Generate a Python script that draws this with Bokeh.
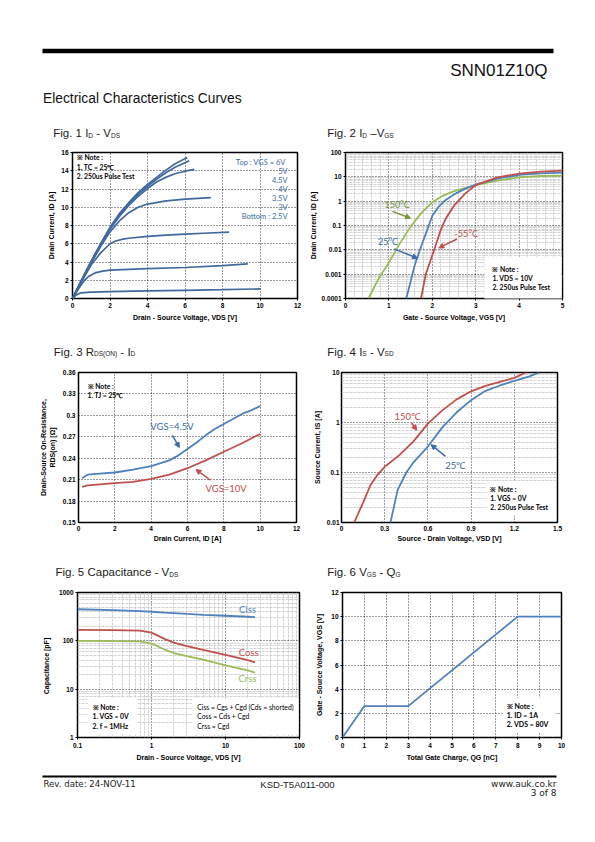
from bokeh.plotting import figure
from bokeh.layouts import column, row
from bokeh.models import Range1d, FixedTicker, CustomJSTickFormatter, Label, Arrow, NormalHead
from bokeh.core.properties import value
from bokeh.embed import file_html
from bokeh.resources import INLINE

# ---------------- DATA ----------------
# Fig 1: ID - VDS, one curve per VGS
fig1_vgs_labels = ["6V", "5V", "4.5V", "4V", "3.5V", "3V", "2.5V"]
fig1_vds_6v = [0, 0.5, 1, 1.5, 2, 2.5, 3, 3.5, 4, 4.5, 5, 5.5, 6.12]
fig1_id_6v = [0, 2.1, 4.1, 6.0, 7.8, 9.3, 10.5, 11.6, 12.5, 13.3, 14.1, 14.8, 15.45]
fig1_vds_5v = [0, 0.5, 1, 1.5, 2, 2.5, 3, 3.5, 4, 4.5, 5, 5.5, 6.23]
fig1_id_5v = [0, 2.1, 4.1, 5.95, 7.7, 9.2, 10.4, 11.4, 12.3, 13.1, 13.8, 14.4, 15.1]
fig1_vds_45v = [0, 0.5, 1, 1.5, 2, 2.5, 3, 3.5, 4, 4.5, 5, 5.5, 6, 6.5]
fig1_id_45v = [0, 2.0, 4.0, 5.85, 7.6, 9.0, 10.2, 11.2, 12.05, 12.8, 13.3, 13.7, 13.95, 14.15]
fig1_vds_4v = [0, 0.5, 1, 1.5, 2, 2.5, 3, 3.5, 4, 5, 6, 7.38]
fig1_id_4v = [0, 2.0, 3.9, 5.7, 7.3, 8.5, 9.4, 10.0, 10.35, 10.7, 10.9, 11.05]
fig1_vds_35v = [0, 0.5, 1, 1.5, 2, 2.3, 2.7, 3, 4, 5, 6, 7, 8.35]
fig1_id_35v = [0, 1.9, 3.7, 5.0, 6.0, 6.3, 6.5, 6.6, 6.8, 6.95, 7.05, 7.15, 7.28]
fig1_vds_3v = [0, 0.3, 0.6, 0.85, 1.2, 1.6, 2, 3, 4, 6, 8, 9.35]
fig1_id_3v = [0, 1.0, 1.9, 2.4, 2.8, 3.0, 3.1, 3.2, 3.27, 3.4, 3.6, 3.8]
fig1_vds_25v = [0, 0.2, 0.45, 1, 2, 4, 6, 8, 10.05]
fig1_id_25v = [0, 0.4, 0.62, 0.7, 0.75, 0.83, 0.9, 0.97, 1.05]
fig1_x_ticks = [0, 2, 4, 6, 8, 10, 12]
fig1_y_ticks = [0, 2, 4, 6, 8, 10, 12, 14, 16]

# Fig 2: ID - VGS (log)
fig2_vgs_150 = [0.53, 0.75, 1.0, 1.25, 1.5, 1.75, 2.0, 2.25, 2.5, 3.0, 3.5, 4.0, 4.5, 5.0]
fig2_id_150 = [0.0001, 0.0006, 0.003, 0.018, 0.09, 0.33, 0.9, 1.7, 2.6, 4.6, 7.0, 9.5, 10.8, 11.3]
fig2_vgs_25 = [1.4, 1.5, 1.6, 1.75, 1.9, 2.0, 2.15, 2.3, 2.5, 2.75, 3.0, 3.5, 4.0, 4.5, 5.0]
fig2_id_25 = [0.0001, 0.0005, 0.0025, 0.015, 0.08, 0.25, 0.6, 1.1, 1.9, 3.2, 4.8, 8.5, 12.0, 14.0, 15.0]
fig2_vgs_m55 = [1.74, 1.85, 2.0, 2.1, 2.2, 2.3, 2.5, 2.75, 3.0, 3.5, 4.0, 4.5, 5.0]
fig2_id_m55 = [0.0001, 0.001, 0.006, 0.02, 0.07, 0.18, 0.65, 2.0, 4.6, 9.5, 13.5, 16.5, 18.0]
fig2_x_ticks = [0, 1, 2, 3, 4, 5]
fig2_y_ticks = [0.0001, 0.001, 0.01, 0.1, 1, 10, 100]

# Fig 3: RDS(on) - ID
fig3_id_45v = [0.2, 0.5, 1, 2, 3, 4, 5, 5.5, 6, 6.5, 7, 7.5, 8, 8.5, 9, 9.5, 10]
fig3_r_45v = [0.212, 0.217, 0.218, 0.22, 0.224, 0.229, 0.237, 0.244, 0.253, 0.262, 0.272, 0.281, 0.288, 0.295, 0.302, 0.307, 0.313]
fig3_id_10v = [0.2, 0.5, 1, 2, 3, 4, 5, 6, 7, 8, 9, 10]
fig3_r_10v = [0.2, 0.202, 0.203, 0.205, 0.207, 0.211, 0.217, 0.226, 0.237, 0.249, 0.261, 0.274]
fig3_x_ticks = [0, 2, 4, 6, 8, 10, 12]
fig3_y_ticks = [0.15, 0.18, 0.21, 0.24, 0.27, 0.3, 0.33, 0.36]

# Fig 4: IS - VSD (log)
fig4_vsd_150 = [0.088, 0.15, 0.2, 0.25, 0.3, 0.4, 0.5, 0.6, 0.7, 0.8, 0.9, 1.0, 1.1, 1.2, 1.28]
fig4_is_150 = [0.01, 0.025, 0.055, 0.09, 0.13, 0.22, 0.42, 0.95, 1.75, 2.9, 4.2, 5.4, 6.5, 7.8, 10.0]
fig4_vsd_25 = [0.34, 0.39, 0.45, 0.5, 0.6, 0.7, 0.8, 0.9, 1.0, 1.1, 1.2, 1.3, 1.375]
fig4_is_25 = [0.01, 0.045, 0.1, 0.16, 0.33, 0.8, 1.6, 2.8, 4.3, 5.5, 6.8, 8.3, 10.0]
fig4_x_ticks = [0, 0.3, 0.6, 0.9, 1.2, 1.5]
fig4_y_ticks = [0.01, 0.1, 1, 10]

# Fig 5: Capacitance - VDS (log-log)
fig5_vds = [0.1, 0.3, 0.7, 1, 1.5, 2, 3, 5, 10, 20, 25]
fig5_ciss = [450, 430, 410, 400, 385, 375, 360, 345, 330, 315, 310]
fig5_coss = [168, 167, 163, 148, 110, 92, 78, 65, 51, 40, 36]
fig5_crss = [100, 99, 97, 88, 66, 56, 48, 41, 31, 24.5, 22]
fig5_x_ticks = [0.1, 1, 10, 100]
fig5_y_ticks = [1, 10, 100, 1000]

# Fig 6: VGS - QG
fig6_qg = [0, 1, 3, 8, 10]
fig6_vgs = [0, 2.6, 2.6, 10, 10]
fig6_x_ticks = [0, 1, 2, 3, 4, 5, 6, 7, 8, 9, 10]
fig6_y_ticks = [0, 2, 4, 6, 8, 10, 12]

# ---------------- STYLE ----------------
FONT = "Liberation Sans"
NFONT = "Lato"
BLUE1 = "#41699D"
BLUE = "#4F81BD"
RED = "#C0504D"
GREEN = "#9BBB59"
GREEN_T = "#77933C"
BLUE_T = "#3B6AA8"

ARIAL = {"F": 611, "i": 222, "g": 556, ".": 278, " ": 278, "I": 278, "D": 722, "S": 667, "-": 333,
         "V": 667, "R": 722, "(": 333, ")": 333, "O": 778, "N": 722, "G": 778, "Q": 778, "C": 722,
         "a": 556, "p": 556, "c": 500, "t": 278, "n": 556, "e": 556, "\u2013": 556}

PAGE_W = 587


def text_width(s, size):
    return sum(ARIAL.get(ch, 556) for ch in s) * size / 1000.0


def spacer(y0, y1):
    p = figure(width=PAGE_W, height=y1 - y0, x_range=Range1d(0, PAGE_W), y_range=Range1d(y1, y0),
               x_axis_location=None, y_axis_location=None, min_border=0,
               output_backend="svg", toolbar_location=None, title=None)
    p.grid.visible = False
    p.outline_line_color = None
    p.background_fill_color = "white"
    p.border_fill_color = "white"
    return p


def put_text(p, x, y, s, size, align="left", font=FONT, color="black", baseline="alphabetic"):
    p.text(x=[x], y=[y], text=[s], text_font=value(font), text_font_size=value(f"{size}px"),
           text_align=align, text_baseline=baseline, text_color=color)


def fig_title(p, x, y, parts, size=11.5, sub=6.5):
    for s, is_sub in parts:
        fs = sub if is_sub else size
        stripped = s.lstrip(" ")
        x += text_width(s[:len(s) - len(stripped)], fs)
        put_text(p, x, y + (2.0 if is_sub else 0.0), stripped, fs, color="#222222")
        x += text_width(stripped, fs)


def chart(cx0, cx1, cy0, cy1, fx0, fx1, fy0, fy1, xr, yr, xlog=False, ylog=False):
    p = figure(width=cx1 - cx0, height=cy1 - cy0,
               min_border_left=fx0 - cx0, min_border_right=cx1 - fx1,
               min_border_top=fy0 - cy0, min_border_bottom=cy1 - fy1,
               x_range=Range1d(*xr), y_range=Range1d(*yr),
               x_axis_type="log" if xlog else "linear",
               y_axis_type="log" if ylog else "linear",
               output_backend="svg", toolbar_location=None, title=None)
    p.outline_line_color = "black"
    p.outline_line_width = 1.5
    p.background_fill_color = "white"
    p.border_fill_color = "white"
    return p


def axes(p, xlabel, ylabel, xt, yt, xminor=None, yminor=None, tick_out=2, xlab_standoff=3, ylab_standoff=3,
         xstandoff=2, ystandoff=2):
    p.xaxis.ticker = FixedTicker(ticks=xt)
    p.yaxis.ticker = FixedTicker(ticks=yt)
    p.xgrid.ticker = FixedTicker(ticks=xt, minor_ticks=xminor or [])
    p.ygrid.ticker = FixedTicker(ticks=yt, minor_ticks=yminor or [])
    p.xaxis.axis_label = xlabel
    p.yaxis.axis_label = ylabel
    for ax in (p.xaxis[0], p.yaxis[0]):
        ax.formatter = CustomJSTickFormatter(code="return tick.toString();")
        ax.major_label_text_font = FONT
        ax.major_label_text_font_size = "6.5px"
        ax.major_label_text_font_style = "bold"
        ax.major_label_text_color = "black"
        ax.axis_label_text_font = FONT
        ax.axis_label_text_font_size = "7px"
        ax.axis_label_text_font_style = "bold"
        ax.axis_label_text_color = "black"
        ax.axis_line_color = None
        ax.major_tick_out = tick_out
        ax.major_tick_in = 0
        ax.minor_tick_out = 0
        ax.minor_tick_in = 0
        ax.major_tick_line_color = "black"
    p.xaxis[0].major_label_standoff = xstandoff
    p.yaxis[0].major_label_standoff = ystandoff
    p.xaxis[0].axis_label_standoff = xlab_standoff
    p.yaxis[0].axis_label_standoff = ylab_standoff
    for g in (p.xgrid[0], p.ygrid[0]):
        g.grid_line_color = "black"
        g.grid_line_dash = "1 2"
        g.grid_line_width = 0.8
        g.minor_grid_line_color = "#c2c2c2"
        g.minor_grid_line_dash = "3 1"
        g.minor_grid_line_width = 0.7


def note(p, x, y, text, size=7, bold=True, color="black", align="left", fill=None, pad=0, lh=1.15):
    lab = Label(x=x, y=y, text=text, text_font=NFONT, text_font_size=f"{size}px",
                text_font_style="bold" if bold else "normal", text_color=color,
                text_align=align, text_baseline="top", text_line_height=lh)
    if fill is not None:
        lab.background_fill_color = fill
        lab.padding = pad
    p.add_layout(lab)


def tag(p, x, y, text, color, size=9):
    p.add_layout(Label(x=x, y=y, text=text, text_font=NFONT, text_font_size=f"{size}px",
                       text_color=color, text_align="center", text_baseline="middle"))


def arrow(p, x0, y0, x1, y1, color):
    p.add_layout(Arrow(x_start=x0, y_start=y0, x_end=x1, y_end=y1, line_color=color, line_width=1.5,
                       end=NormalHead(size=5, fill_color=color, line_color=color)))


# ---------------- HEADER ----------------
hdr = spacer(0, 140)
hdr.quad(left=[42], right=[553], top=[48.3], bottom=[52.8], fill_color="black", line_color=None)
put_text(hdr, 547, 70, "SNN01Z10Q", 17, align="right", color="#111111")
put_text(hdr, 42.5, 98, "Electrical Characteristics Curves", 13.8, color="#111111")
fig_title(hdr, 52.7, 132.5, [("Fig. 1 I", False), ("D", True), (" - V", False), ("DS", True)])
fig_title(hdr, 326.7, 132.5, [("Fig. 2 I", False), ("D", True), (" \u2013V", False), ("GS", True)])

# ---------------- FIG 1 ----------------
p1 = chart(0, 306, 140, 330, 72, 297, 152, 298, (0, 12), (0, 16))
axes(p1, "Drain - Source Voltage, VDS [V]", "Drain Current, ID [A]", fig1_x_ticks, fig1_y_ticks)
for xs, ys in [(fig1_vds_6v, fig1_id_6v), (fig1_vds_5v, fig1_id_5v), (fig1_vds_45v, fig1_id_45v),
               (fig1_vds_4v, fig1_id_4v), (fig1_vds_35v, fig1_id_35v), (fig1_vds_3v, fig1_id_3v),
               (fig1_vds_25v, fig1_id_25v)]:
    p1.line(xs, ys, line_color=BLUE1, line_width=1.7)
note(p1, 0.23, 15.9, "\u203b Note :\n 1. TC = 25\u2103\n 2. 250us Pulse Test", size=6.8)
legend_text = "Top : VGS =  " + fig1_vgs_labels[0] + "\n" + "\n".join(fig1_vgs_labels[1:-1]) + "\nBottom : " + fig1_vgs_labels[-1]
note(p1, 11.47, 15.45, legend_text, size=7.5, bold=False, color="#3D6CA6", align="right", lh=1.0)

# ---------------- FIG 2 ----------------
p2 = chart(306, 587, 140, 330, 342, 562, 152, 298, (0, 5), (0.0001, 100), ylog=True)
f2_xminor = [i * 0.2 for i in range(1, 25) if i % 5]
f2_yminor = [m * 10.0 ** e for e in range(-4, 2) for m in range(2, 10)]
axes(p2, "Gate - Source Voltage, VGS [V]", "Drain Current, ID [A]", fig2_x_ticks, fig2_y_ticks,
     f2_xminor, f2_yminor, ylab_standoff=2)
p2.line(fig2_vgs_150, fig2_id_150, line_color=GREEN, line_width=1.8)
p2.line(fig2_vgs_25, fig2_id_25, line_color=BLUE, line_width=1.8)
p2.line(fig2_vgs_m55, fig2_id_m55, line_color=RED, line_width=1.8)
tag(p2, 1.19, 0.7, "150\u00b0C", GREEN_T)
arrow(p2, 1.08, 0.38, 1.5, 0.2, GREEN_T)
tag(p2, 0.98, 0.023, "25\u00b0C", BLUE_T)
arrow(p2, 1.12, 0.011, 1.66, 0.0045, BLUE_T)
tag(p2, 2.78, 0.047, "-55\u00b0C", RED)
arrow(p2, 2.57, 0.028, 2.15, 0.012, RED)
note(p2, 3.2, 0.0052, "\u203b Note :\n  1. VDS = 10V\n  2. 250us Pulse Test", size=6.8,
     fill="white", pad=8)

# ---------------- MID 1 ----------------
mid1 = spacer(330, 360)
fig_title(mid1, 53.3, 351, [("Fig. 3 R", False), ("DS(ON)", True), (" - I", False), ("D", True)])
fig_title(mid1, 326.7, 351, [("Fig. 4 I", False), ("S", True), (" - V", False), ("SD", True)])

# ---------------- FIG 3 ----------------
p3 = chart(0, 306, 360, 547, 78, 296, 372, 522, (0, 12), (0.15, 0.36))
axes(p3, "Drain Current, ID [A]", "Drain-Source On-Resistance,\nRDS(on) [\u03a9]", fig3_x_ticks, fig3_y_ticks,
     tick_out=0, xstandoff=3, xlab_standoff=1, ystandoff=3, ylab_standoff=4)
p3.line(fig3_id_45v, fig3_r_45v, line_color=BLUE, line_width=1.8)
p3.line(fig3_id_10v, fig3_r_10v, line_color=RED, line_width=1.8)
note(p3, 0.5, 0.347, "\u203b Note :\n 1. TJ = 25\u2103", size=6.8)
p3.add_layout(Label(x=3.95, y=0.284, text="VGS=4.5V", text_font=NFONT, text_font_size="9.5px",
                    text_color=BLUE_T, text_align="left", text_baseline="middle"))
arrow(p3, 5.17, 0.272, 5.55, 0.255, BLUE_T)
p3.add_layout(Label(x=6.99, y=0.1976, text="VGS=10V", text_font=NFONT, text_font_size="9.5px",
                    text_color=RED, text_align="left", text_baseline="middle"))
arrow(p3, 7.26, 0.2093, 6.47, 0.2242, RED)

# ---------------- FIG 4 ----------------
p4 = chart(306, 587, 360, 547, 341, 557, 372, 522, (0, 1.5), (0.01, 10), ylog=True)
f4_yminor = [m * 10.0 ** e for e in range(-2, 1) for m in range(2, 10)]
axes(p4, "Source - Drain Voltage, VSD [V]", "Source Current, IS [A]", fig4_x_ticks, fig4_y_ticks,
     None, f4_yminor, tick_out=0, xstandoff=3, xlab_standoff=1)
p4.line(fig4_vsd_150, fig4_is_150, line_color=RED, line_width=1.8)
p4.line(fig4_vsd_25, fig4_is_25, line_color=BLUE, line_width=1.8)
tag(p4, 0.457, 1.34, "150\u2103", RED, size=9.5)
arrow(p4, 0.487, 0.98, 0.522, 0.7, RED)
tag(p4, 0.79, 0.14, "25\u2103", BLUE_T, size=9.5)
arrow(p4, 0.722, 0.21, 0.622, 0.36, BLUE_T)
note(p4, 1.006, 0.0675, "\u203b Note :\n  1. VGS = 0V\n  2. 250us Pulse Test", size=6.8,
     fill="white", pad=4)

# ---------------- MID 2 ----------------
mid2 = spacer(547, 582)
fig_title(mid2, 55, 571.5, [("Fig. 5 Capacitance - V", False), ("DS", True)])
fig_title(mid2, 326.7, 571.5, [("Fig. 6 V", False), ("GS", True), (" - Q", False), ("G", True)])

# ---------------- FIG 5 ----------------
p5 = chart(0, 306, 582, 770, 77, 299, 592, 737, (0.1, 100), (1, 1000), xlog=True, ylog=True)
f5_xminor = [m * 10.0 ** e for e in range(-1, 2) for m in range(2, 10)]
f5_yminor = [m * 10.0 ** e for e in range(0, 3) for m in range(2, 10)]
axes(p5, "Drain - Source Voltage, VDS [V]", "Capacitance  [pF]", fig5_x_ticks, fig5_y_ticks,
     f5_xminor, f5_yminor, xstandoff=3, xlab_standoff=3, ylab_standoff=6)
p5.line(fig5_vds, fig5_ciss, line_color=BLUE, line_width=1.8)
p5.line(fig5_vds, fig5_coss, line_color=RED, line_width=1.8)
p5.line(fig5_vds, fig5_crss, line_color=GREEN, line_width=1.8)
tag(p5, 19.8, 445, "Ciss", BLUE, size=9.5)
tag(p5, 20.6, 58, "Coss", RED, size=9.5)
tag(p5, 19.8, 17, "Crss", GREEN, size=9.5)
note(p5, 0.137, 6.5, "\u203b Note :\n  1. VGS = 0V\n  2. f = 1MHz", size=6.8, fill="white", pad=5)
note(p5, 3.55, 6.5, "Ciss = Cgs + Cgd (Cds = shorted)\nCoss = Cds + Cgd\nCrss = Cgd", size=6.8,
     bold=False, fill="white", pad=5)

# ---------------- FIG 6 ----------------
p6 = chart(306, 587, 582, 770, 342, 561, 592, 737, (0, 10), (0, 12))
axes(p6, "Total Gate Charge, QG [nC]", "Gate - Source Voltage, VGS [V]", fig6_x_ticks, fig6_y_ticks,
     xstandoff=3, xlab_standoff=3, ylab_standoff=5)
p6.line(fig6_qg, fig6_vgs, line_color=BLUE, line_width=1.8)
note(p6, 7.32, 3.3, "\u203b Note :\n  1. ID = 1A\n  2. VDS = 80V", size=7, fill="white", pad=4)

# ---------------- FOOTER ----------------
ftr = spacer(770, 820)
ftr.quad(left=[42], right=[556], top=[775], bottom=[777], fill_color="black", line_color=None)
put_text(ftr, 43, 783.5, "Rev. date: 24-NOV-11", 8.6, font="DejaVu Sans", color="#222222", baseline="middle")
put_text(ftr, 297, 783.5, "KSD-T5A011-000", 9.5, align="center", color="#222222", baseline="middle")
put_text(ftr, 556, 783.5, "www.auk.co.kr", 9, align="right", font="DejaVu Sans", color="#222222", baseline="middle")
put_text(ftr, 556, 792.5, "3 of 8", 9, align="right", font="DejaVu Sans", color="#222222", baseline="middle")

page = column(hdr, row(p1, p2), mid1, row(p3, p4), mid2, row(p5, p6), ftr)

with open("out.html", "w") as f:
    f.write(file_html(page, INLINE))
